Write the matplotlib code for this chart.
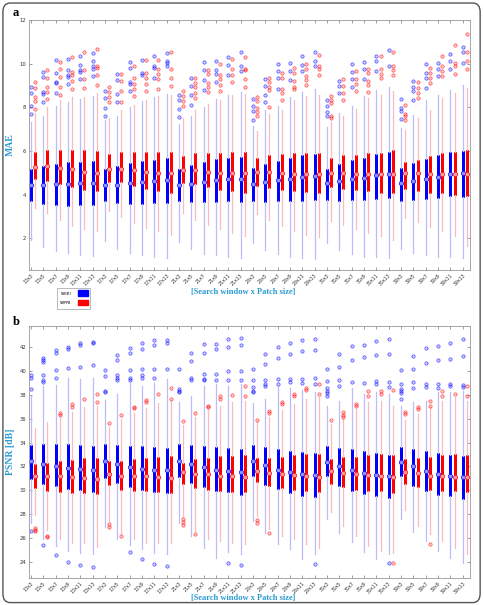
import matplotlib
matplotlib.use("Agg")
import matplotlib.pyplot as plt
from matplotlib.patches import FancyBboxPatch, Patch
import numpy as np

categories = ["13x3", "13x5", "13x7", "13x9", "13x11", "13x13",
              "17x3", "17x5", "17x7", "17x9", "17x11", "17x13",
              "21x3", "21x5", "21x7", "21x9", "21x11", "21x13",
              "29x3", "29x5", "29x7", "29x9", "29x11", "29x13",
              "35x3", "35x5", "35x7", "35x9", "35x11", "35x13",
              "39x3", "39x5", "39x7", "39x9", "39x11", "39x13"]

# ---------------- panel a : MAE ----------------
a_ori_med = [4.46,4.43,4.49,4.49,4.54,4.54, 4.46,4.46,4.51,4.57,4.62,4.65, 4.46,4.49,4.57,4.65,4.69,4.72,
             4.49,4.57,4.65,4.72,4.80,4.85, 4.51,4.62,4.69,4.77,4.88,4.92, 4.54,4.62,4.72,4.82,4.92,4.97]
a_ori_q1 = [3.72,3.57,3.54,3.49,3.52,3.52, 3.69,3.62,3.57,3.57,3.62,3.62, 3.72,3.65,3.65,3.65,3.69,3.66,
            3.69,3.65,3.69,3.72,3.72,3.77, 3.74,3.69,3.74,3.77,3.80,3.83, 3.72,3.74,3.80,3.85,3.92,3.89]
a_ori_q3 = [5.18,5.31,5.42,5.49,5.49,5.55, 5.18,5.31,5.46,5.54,5.58,5.66, 5.15,5.35,5.49,5.62,5.69,5.74,
            5.20,5.38,5.54,5.69,5.82,5.85, 5.18,5.42,5.58,5.69,5.88,5.97, 5.20,5.43,5.65,5.82,5.95,6.00]
a_ori_lo = [1.90,1.58,1.42,1.31,1.22,1.18, 1.85,1.51,1.31,1.23,1.12,1.11, 1.82,1.49,1.28,1.23,1.12,1.08,
            1.80,1.46,1.28,1.15,1.08,1.05, 1.77,1.46,1.26,1.15,1.12,1.08, 1.49,1.31,1.23,1.15,1.12,1.08]
a_ori_hi = [7.31,7.62,8.05,8.25,8.40,8.51, 7.40,7.62,8.00,8.28,8.48,8.62, 7.25,7.58,8.02,8.38,8.58,8.69,
            7.12,7.89,8.08,8.48,8.69,8.85, 7.08,7.74,8.05,8.51,8.78,8.94, 7.05,7.66,8.35,8.54,8.78,9.00]
a_ori_out = [[8.94,8.66,8.05,7.69], [9.62,9.40,8.69,8.63,8.26], [10.15,9.55,9.15,9.12,8.66],
             [10.20,9.69,9.46,9.38,9.05], [10.35,9.92,9.69,9.62,9.28], [10.48,10.12,9.89,9.77,9.43],
             [8.74,8.43,7.97,7.62], [9.51,9.25,8.62,8.25], [10.08,9.82,9.15,9.05,8.74],
             [10.15,9.55,9.46], [10.35,9.89,9.82,9.35], [10.48,10.12,10.05,9.89],
             [8.58,8.35,7.92,7.55], [9.35,8.97,8.54,8.12], [10.08,9.69,9.23,8.78],
             [10.12,9.69,9.51,9.15], [10.32,9.92,9.46], [10.51,9.89,9.66],
             [8.38,8.08,7.82,7.43], [9.31,8.97,8.58,8.23], [9.97,9.66,9.32,8.85],
             [10.05,9.66,9.25], [10.35,9.92,9.66], [10.51,10.12,9.89],
             [8.35,8.05,7.78,7.58], [9.20,8.97,8.66], [9.97,9.62,9.28,8.94],
             [10.08,9.74,9.31], [10.35,10.12,9.66], [10.63,9.89],
             [8.38,7.97,7.82,7.48], [9.20,8.94,8.74,8.31], [9.97,9.58,9.35,8.89],
             [10.05,9.74,9.43], [10.43,10.12,9.74], [10.78,10.54,10.05]]

a_ppb_med = [5.28,5.31,5.20,5.15,5.05,5.00, 5.18,5.15,5.12,5.05,5.00,4.97, 5.12,5.11,5.05,5.00,4.97,4.97,
             5.03,5.03,4.97,4.95,4.95,4.95, 5.00,5.00,4.95,4.95,4.94,4.95, 5.00,5.00,4.95,4.95,4.95,4.95]
a_ppb_q1 = [4.69,4.62,4.49,4.34,4.23,4.15, 4.58,4.58,4.38,4.26,4.15,4.08, 4.54,4.49,4.34,4.23,4.15,4.05,
            4.38,4.31,4.23,4.15,4.11,4.05, 4.35,4.26,4.20,4.15,4.08,4.05, 4.26,4.15,4.08,4.05,4.00,3.95]
a_ppb_q3 = [5.95,6.03,6.05,6.05,6.05,5.98, 5.85,5.95,5.97,5.97,5.97,5.95, 5.77,5.89,5.92,5.92,5.95,5.95,
            5.69,5.80,5.88,5.89,5.89,5.89, 5.66,5.80,5.83,5.89,5.89,6.03, 5.49,5.58,5.77,5.89,5.95,6.03]
a_ppb_lo = [3.38,3.15,2.85,2.57,2.42,2.31, 3.23,2.97,2.69,2.46,2.35,2.15, 3.15,2.85,2.62,2.42,2.23,2.08,
            3.12,2.85,2.57,2.35,2.15,2.05, 2.77,2.62,2.42,2.26,2.08,1.92, 2.92,2.72,2.51,2.31,2.08,1.62]
a_ppb_hi = [7.74,8.00,8.32,8.46,8.46,8.66, 7.51,7.89,8.12,8.35,8.51,8.58, 7.51,7.89,8.17,8.35,8.58,8.63,
            6.89,7.71,7.89,8.35,8.51,8.58, 7.31,7.58,7.92,8.43,8.58,8.74, 6.94,7.51,7.89,8.43,8.66,8.89]
a_ppb_out = [[9.15,8.89,8.46,8.28,7.92], [9.71,9.35,8.92,8.69,8.38], [10.08,9.74,9.40,8.94,8.58],
             [10.32,9.62,9.46,9.20,8.82], [10.54,9.71,9.28,8.89], [10.69,9.89,9.78,9.46,9.00],
             [8.94,8.69,8.46,8.23], [9.51,9.20,8.74,8.23], [9.89,9.35,9.05,8.85,8.51],
             [10.15,9.55,9.32,9.08,8.74], [10.15,9.74,9.51,9.28,8.85], [10.54,9.77,9.35,8.97],
             [8.74,8.51,8.28,8.08], [9.35,9.12,8.94,8.66,8.43], [9.71,9.51,9.12,8.94,8.69],
             [9.97,9.46,9.31,9.00,8.74], [10.20,9.74,9.46,9.15], [10.32,9.77,9.71,9.28,8.94],
             [8.46,8.28,7.97,7.77,7.58], [9.32,9.15,8.94,8.78,8.02], [9.58,9.35,8.82,8.66,8.35],
             [9.82,9.58,9.20,8.94,8.82], [9.97,9.74,9.43,9.25,9.00], [10.38,9.89,9.74,9.46],
             [8.51,8.31,8.20,7.62,7.51], [9.31,8.97,8.66,8.35], [9.66,9.28,9.05,8.74],
             [9.74,9.55,9.20,9.00,8.69], [10.35,9.74,9.51,9.35], [10.54,9.89,9.71,9.46],
             [8.12,7.71,7.58,7.43], [9.15,8.89,8.66,8.43], [9.82,9.58,9.35,9.12],
             [10.35,9.89,9.66,9.43], [10.85,10.05,9.89,9.51], [11.35,10.51,10.12,9.74]]

# ---------------- panel b : PSNR ----------------
b_ori_med = [32.42,32.22,32.00,31.86,31.80,31.72, 32.42,32.19,31.94,31.78,31.67,31.67, 32.42,32.19,31.94,31.72,31.58,31.50,
             32.42,32.14,31.72,31.53,31.36,31.25, 32.36,32.08,31.67,31.44,31.31,31.17, 32.36,32.00,31.58,31.36,31.17,31.11]
b_ori_q1 = [30.94,30.56,30.33,30.14,30.00,29.86, 31.03,30.61,30.25,30.06,29.86,29.78, 31.11,30.61,30.25,29.97,29.83,29.64,
            31.17,30.47,30.11,29.78,29.50,29.44, 31.17,30.33,29.97,29.69,29.50,29.36, 31.17,30.39,29.97,29.64,29.50,29.28]
b_ori_q3 = [33.80,33.89,33.89,33.89,33.80,33.72, 33.89,33.80,33.72,33.72,33.61,33.53, 33.89,33.80,33.72,33.67,33.53,33.44,
            33.80,33.61,33.47,33.33,33.19,33.11, 33.75,33.53,33.44,33.31,33.11,32.97, 33.67,33.47,33.33,33.17,32.97,32.89]
b_ori_lo = [27.28,25.89,25.33,24.92,24.78,24.64, 26.94,25.89,25.39,25.06,24.78,24.64, 27.28,26.17,25.19,24.36,24.83,24.64,
            27.42,26.39,25.47,25.06,24.22,24.64, 27.56,26.44,25.67,24.83,24.28,24.64, 27.56,26.50,25.75,24.92,24.36,23.94]
b_ori_hi = [37.90,38.70,38.84,39.43,39.34,39.43, 37.58,38.03,38.98,38.78,39.00,39.34, 37.38,37.86,38.78,38.90,38.70,38.90,
            37.30,37.66,38.64,38.59,38.42,38.22, 37.10,37.52,38.60,38.03,38.22,38.08, 37.10,37.38,37.52,38.22,38.22,38.30]
b_ori_out = [[39.68,39.43,38.50,26.58], [41.08,40.88,40.74,39.62,39.26,39.06,25.42], [41.72,41.50,40.04,39.43,24.56],
             [42.00,41.86,40.27,24.03], [42.34,42.14,40.32,23.72], [42.42,42.34,40.46,23.61],
             [40.04,39.54,38.36,38.22], [41.30,40.88,39.62,39.43,39.26], [41.94,41.52,40.04,39.40,39.26,24.83],
             [42.36,41.86,40.18,39.62,39.43,24.28], [42.62,42.14,40.18,39.40,23.86], [42.56,42.36,40.13,23.67],
             [40.13,38.50,38.36,38.22], [41.50,40.83,39.43,39.20], [42.22,41.50,39.76,39.34,39.26],
             [42.28,41.86,39.71,39.26], [42.64,42.00,39.99,39.20,23.94], [42.78,42.14,39.99,39.20,23.72],
             [40.13,39.26,38.64,38.36,38.22], [41.44,40.55,39.26,38.87,38.70], [42.00,41.08,39.34,38.92],
             [42.36,41.44,39.34,39.06], [42.62,41.64,39.34,38.98], [42.70,41.72,39.43,38.92,23.81],
             [40.13,39.15,38.59,38.36,38.14,37.94], [41.44,40.32,39.20,38.70], [42.06,40.88,39.06],
             [42.20,41.16,38.98], [42.48,41.30,39.15,38.92], [42.64,41.44,39.06,38.64,23.89],
             [40.10,38.92,38.45,38.36,38.14,37.66], [41.22,40.18,39.06,38.59], [41.94,40.66,38.92,38.64],
             [42.06,40.94,38.92,38.59], [42.36,41.02,38.87,38.70], [42.64,41.22,38.84,38.64]]

b_ppb_med = [31.22,31.17,31.17,31.11,31.03,30.97, 31.39,31.22,31.22,31.17,31.11,31.03, 31.50,31.36,31.36,31.22,31.17,31.08,
             31.58,31.44,31.36,31.25,31.22,31.08, 31.58,31.44,31.36,31.31,31.17,31.08, 31.50,31.44,31.22,31.17,31.11,31.08]
b_ppb_q1 = [30.19,29.92,29.86,29.78,29.78,29.69, 30.42,30.06,29.97,29.92,29.83,29.78, 30.53,30.19,30.06,29.92,29.83,29.83,
            30.67,30.33,30.19,30.06,29.92,29.83, 30.56,30.28,30.06,29.97,29.92,29.78, 30.56,30.25,30.06,29.97,29.92,29.83]
b_ppb_q3 = [32.19,32.28,32.47,32.56,32.69,32.69, 32.47,32.47,32.64,32.75,32.83,32.89, 32.33,32.61,32.69,32.89,32.89,32.97,
            32.69,32.69,32.83,32.92,33.03,33.03, 32.64,32.83,32.83,32.97,33.06,32.97, 32.64,32.75,32.83,32.92,33.03,32.97]
b_ppb_lo = [27.97,26.72,25.89,25.61,25.61,25.28, 27.40,26.44,25.94,25.61,25.61,25.61, 27.80,26.60,25.89,25.75,25.61,25.47,
            27.83,26.78,26.17,25.89,25.47,25.19, 28.17,27.00,26.22,25.33,24.92,24.72, 28.39,27.00,26.36,25.75,25.19,24.64]
b_ppb_hi = [35.23,35.76,36.07,36.55,37.02,37.10, 35.29,35.99,36.46,36.91,37.30,37.38, 35.51,36.18,36.74,37.10,37.38,37.52,
            35.71,36.13,36.74,37.19,37.66,37.80, 35.57,35.99,36.83,37.38,37.52,37.10, 35.85,36.41,36.97,37.52,37.80,37.52]
b_ppb_out = [[26.86,26.72,26.58], [26.22,26.08], [36.46,36.35], [37.24,37.02], [37.66], [38.08,37.38],
             [35.62,27.19,26.94], [36.27,26.17], [37.02,36.91], [37.58,37.38], [38.08], [38.56,37.66],
             [35.79,27.56,27.33,27.06], [36.49,26.31], [37.10,36.97], [37.86,37.66], [38.00], [38.78,37.86],
             [35.93,27.50,27.28], [36.63,36.46,26.44], [37.38,37.24], [38.08,37.86], [38.56,38.42], [38.92,38.03],
             [35.90], [36.55,36.35,36.18], [37.24,37.10], [38.28,37.94], [38.31,38.03], [38.42,23.89],
             [36.60,36.41], [36.97,36.83], [37.52,37.10,25.53], [38.28,37.86], [38.08], [38.70,37.86]]

series_labels = ["w$_{\\mathrm{ORI}}$", "w$_{\\mathrm{PPB}}$"]

# ---------------- styles ----------------
BLUE = "#0000ff"
RED = "#ff0000"
LBLUE = "#bcbcf8"
LRED = "#f8bcbc"
LABEL_COLOR = "#2b9bd3"
SERIF = ["Liberation Serif", "DejaVu Serif"]


def make_stats(med, q1, q3, lo, hi, out):
    return [dict(med=m, mean=m, q1=a, q3=b, whislo=l, whishi=h, fliers=np.array(f))
            for m, a, b, l, h, f in zip(med, q1, q3, lo, hi, out)]


def draw_series(ax, stats, pos, col, lcol, medfill):
    rgb = matplotlib.colors.to_rgb(col)
    ax.bxp(stats, positions=pos, widths=0.0, showcaps=False, showmeans=True,
           patch_artist=False, manage_ticks=False,
           boxprops=dict(color=col, linewidth=1.9, solid_joinstyle="bevel", solid_capstyle="butt"),
           whiskerprops=dict(color=lcol, linewidth=0.9, linestyle="-"),
           medianprops=dict(linewidth=0),
           meanprops=dict(marker="o", markersize=3.2, markerfacecolor=medfill,
                          markeredgecolor=col, markeredgewidth=0.45, linestyle="none"),
           flierprops=dict(marker="o", markersize=2.4, markerfacecolor=(*rgb, 0.2),
                           markeredgecolor=(*rgb, 0.6), markeredgewidth=0.55,
                           linestyle="none"))


fig = plt.figure(figsize=(4.85, 6.05), dpi=100)

border = FancyBboxPatch((0.006, 0.004), 0.984, 0.991, boxstyle="round,pad=0,rounding_size=0.015",
                        transform=fig.transFigure, fill=False, edgecolor="#555555", linewidth=1.0)
fig.patches.append(border)

x = np.arange(len(categories))
off = 0.33

panels = [
    dict(rect=[0.0598, 0.554, 0.909, 0.413], ylim=(0.55, 12.0), yticks=[2, 4, 6, 8, 10, 12], ylabel="MAE",
         ori=(a_ori_med, a_ori_q1, a_ori_q3, a_ori_lo, a_ori_hi, a_ori_out),
         ppb=(a_ppb_med, a_ppb_q1, a_ppb_q3, a_ppb_lo, a_ppb_hi, a_ppb_out), letter="a",
         ly=1 - 12.5 / 605, xly=1 - 292 / 605),
    dict(rect=[0.0598, 0.0446, 0.909, 0.4165], ylim=(22.66, 43.76), yticks=list(range(24, 43, 2)),
         ylabel="PSNR [dB]",
         ori=(b_ori_med, b_ori_q1, b_ori_q3, b_ori_lo, b_ori_hi, b_ori_out),
         ppb=(b_ppb_med, b_ppb_q1, b_ppb_q3, b_ppb_lo, b_ppb_hi, b_ppb_out), letter="b",
         ly=1 - 322 / 605, xly=1 - 598 / 605),
]

for p in panels:
    ax = fig.add_axes(p["rect"])
    draw_series(ax, make_stats(*p["ori"]), x, BLUE, LBLUE, "#8f8fff")
    draw_series(ax, make_stats(*p["ppb"]), x + off, RED, LRED, "#ff9a9a")
    ax.set_xlim(-0.15, len(categories) - 1 + 0.57)
    ax.set_ylim(*p["ylim"])
    ax.set_yticks(p["yticks"])
    ax.set_yticklabels([str(v) for v in p["yticks"]], fontsize=3.8, color="#333333")
    ax.set_xticks(x)
    ax.set_xticklabels(categories, rotation=45, ha="right", rotation_mode="anchor",
                       fontsize=3.4, color="#333333")
    ax.tick_params(direction="in", top=True, right=True, length=2.5, width=0.5, color="#777777", pad=2)
    for s in ax.spines.values():
        s.set_color("#999999")
        s.set_linewidth(0.6)
    ax.set_ylabel(p["ylabel"], fontsize=7, color=LABEL_COLOR, family=SERIF, fontweight="bold", labelpad=3)
    fig.text(0.0598 + 0.909 / 2 - 0.012, p["xly"], "[Search window x Patch size]", fontsize=6,
             color=LABEL_COLOR, family=SERIF, fontweight="bold", ha="center", va="center")
    fig.text(13 / 485, p["ly"], p["letter"], fontsize=9, fontweight="bold", family=SERIF,
             ha="left", va="center")

handles = [Patch(facecolor=BLUE, edgecolor=BLUE), Patch(facecolor=RED, edgecolor=RED)]
leg = fig.legend(handles, series_labels, loc="center", bbox_to_anchor=(0.1515, 0.507),
                 fontsize=3.6, markerfirst=False, frameon=True, fancybox=False,
                 edgecolor="#888888", handlelength=2.0, handleheight=1.2, labelspacing=0.25,
                 borderpad=0.35, handletextpad=1.2)
leg.get_frame().set_linewidth(0.5)

fig.savefig("out.png", dpi=100)
